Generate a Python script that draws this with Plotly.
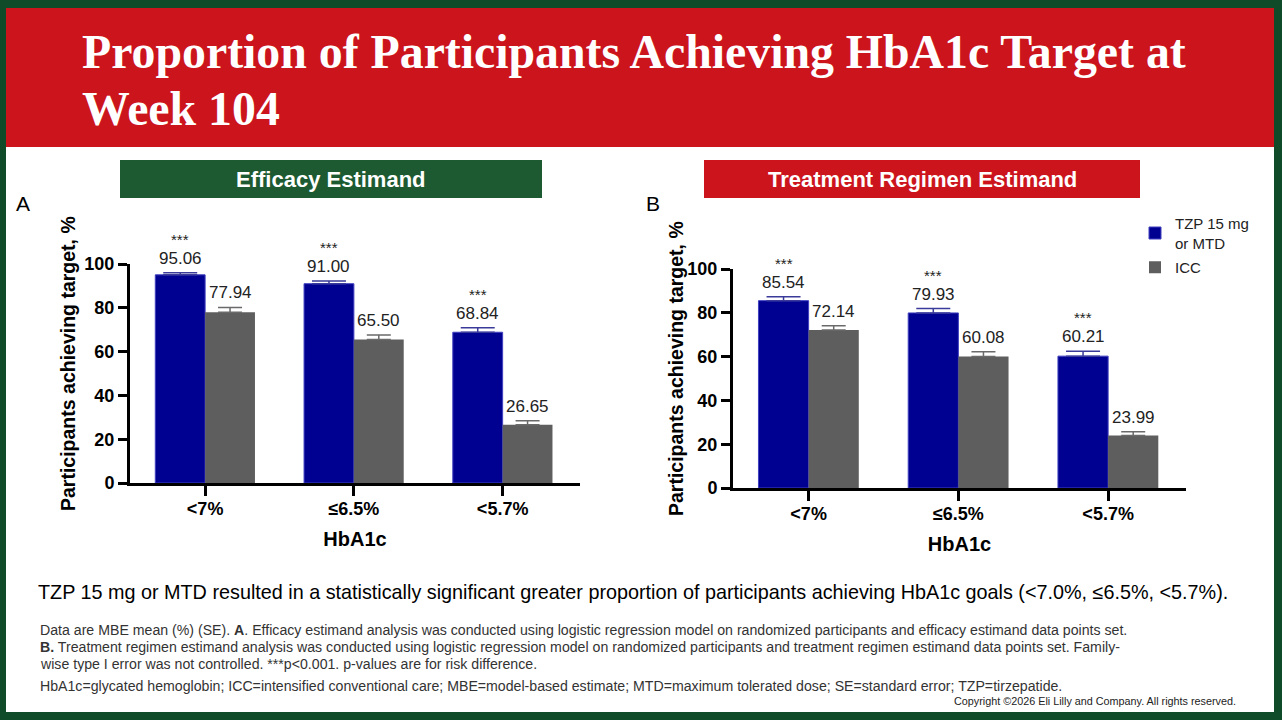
import plotly.graph_objects as go

W, H = 1282, 720

# --- data ---
categories = ["<7%", "≤6.5%", "<5.7%"]
series_names = ["TZP 15 mg<br>or MTD", "ICC"]

efficacy_tzp = [95.06, 91.00, 68.84]
efficacy_icc = [77.94, 65.50, 26.65]
efficacy_tzp_se = [1.0, 1.2, 2.1]
efficacy_icc_se = [2.2, 2.1, 1.8]

regimen_tzp = [85.54, 79.93, 60.21]
regimen_icc = [72.14, 60.08, 23.99]
regimen_tzp_se = [1.8, 2.0, 2.2]
regimen_icc_se = [2.0, 2.1, 1.7]

significance = ["***", "***", "***"]

BLUE = "#000091"
GREY = "#5e5e5e"
RED = "#cc141d"
DARK_GREEN = "#1d5a31"
BGGREEN = "#0f4a29"

serif = "Times New Roman, Liberation Serif, serif"
sans = "Arial, Liberation Sans, sans-serif"


def px(x):
    return x / W


def py(y):
    return 1 - y / H


fig = go.Figure()

BARGAP = 0.33
half = (1 - BARGAP) / 4  # centre offset of each bar in a pair


def add_panel(tzp, icc, tzp_se, icc_se, xa, ya, legend):
    xs = list(range(len(categories)))
    fig.add_trace(go.Bar(
        x=xs, y=tzp, name=series_names[0], marker=dict(color=BLUE, line=dict(color="#4040c0", width=1)),
        error_y=dict(type="data", symmetric=False, array=tzp_se, arrayminus=[0] * len(tzp),
                     color="#3a3a9a", thickness=1.5, width=17),
        xaxis=xa, yaxis=ya, showlegend=legend, legendgroup="tzp",
    ))
    fig.add_trace(go.Bar(
        x=xs, y=icc, name=series_names[1], marker=dict(color=GREY, line=dict(width=0)),
        error_y=dict(type="data", symmetric=False, array=icc_se, arrayminus=[0] * len(icc),
                     color="#6a6a6a", thickness=1.5, width=12),
        xaxis=xa, yaxis=ya, showlegend=legend, legendgroup="icc",
    ))
    # value labels above the error bars
    for i in xs:
        for val, se, off in ((tzp[i], tzp_se[i], -half), (icc[i], icc_se[i], half)):
            fig.add_annotation(x=i + off, y=val + se, xref=xa, yref=ya, text=f"{val:.2f}",
                               showarrow=False, yanchor="bottom", yshift=3,
                               font=dict(family=sans, size=17, color="#222222"))
        fig.add_annotation(x=i - half, y=tzp[i] + tzp_se[i], xref=xa, yref=ya, text=significance[i],
                           showarrow=False, yanchor="bottom", yshift=23,
                           font=dict(family=sans, size=15, color="#222222"))


add_panel(efficacy_tzp, efficacy_icc, efficacy_tzp_se, efficacy_icc_se, "x", "y", True)
add_panel(regimen_tzp, regimen_icc, regimen_tzp_se, regimen_icc_se, "x2", "y2", False)

tick_font = dict(family=sans, size=18, color="black", weight="bold")

xcommon = dict(range=[-0.505, 2.52], tickmode="array", tickvals=[0, 1, 2], ticktext=categories,
               showline=True, linecolor="black", linewidth=3, ticks="outside", ticklen=10,
               tickwidth=3, tickcolor="black", showgrid=False, zeroline=False,
               tickfont=tick_font, ticklabelstandoff=-3,
               title=dict(text="<b>HbA1c</b>", font=dict(size=20, family=sans, color="black"), standoff=15),
               fixedrange=True)
ycommon = dict(range=[0, 100], tickvals=[0, 20, 40, 60, 80, 100], showline=True, linecolor="black",
               linewidth=3, ticks="outside", ticklen=9, tickwidth=3, tickcolor="black",
               showgrid=False, zeroline=False, tickfont=tick_font, fixedrange=True)

fig.update_layout(
    width=W, height=H,
    margin=dict(l=0, r=0, t=0, b=0, pad=0, autoexpand=False),
    paper_bgcolor=BGGREEN,
    plot_bgcolor="white",
    barmode="group", bargap=BARGAP, bargroupgap=0,
    xaxis=dict(xcommon, domain=[px(130), px(580)], anchor="y"),
    yaxis=dict(ycommon, domain=[py(483), py(264)], anchor="x"),
    xaxis2=dict(xcommon, domain=[px(733), px(1186)], anchor="y2"),
    yaxis2=dict(ycommon, domain=[py(488), py(269)], anchor="x2"),
    legend=dict(x=px(1135), y=py(207), xanchor="left", yanchor="top",
                font=dict(family=sans, size=15, color="#222222"),
                bgcolor="rgba(0,0,0,0)", tracegroupgap=2),
    font=dict(family=sans),
)

# slide background, banner and panel headers
fig.add_shape(type="rect", xref="paper", yref="paper", x0=px(6), x1=px(1274), y0=py(712), y1=py(8),
              fillcolor="white", line=dict(width=0), layer="below")
fig.add_shape(type="rect", xref="paper", yref="paper", x0=px(6), x1=px(1274), y0=py(147), y1=py(8),
              fillcolor=RED, line=dict(width=0), layer="below")
fig.add_shape(type="rect", xref="paper", yref="paper", x0=px(120), x1=px(542), y0=py(198), y1=py(160),
              fillcolor=DARK_GREEN, line=dict(width=0), layer="below")
fig.add_shape(type="rect", xref="paper", yref="paper", x0=px(704), x1=px(1140), y0=py(198), y1=py(160),
              fillcolor=RED, line=dict(width=0), layer="below")


def label(x, y, text, size, family=sans, color="black", xanchor="left", angle=0):
    fig.add_annotation(x=px(x), y=py(y), xref="paper", yref="paper", xanchor=xanchor, yanchor="middle",
                       text=text, showarrow=False, textangle=angle,
                       font=dict(family=family, size=size, color=color))


label(80, 52, "<b>Proportion of Participants Achieving HbA1c Target at</b>", 47.8, serif, "white")
label(80, 108, "<b>Week 104</b>", 47.8, serif, "white")
label(331, 179, "<b>Efficacy Estimand</b>", 22, color="white", xanchor="center")
label(922, 179, "<b>Treatment Regimen Estimand</b>", 22, color="white", xanchor="center")
label(14, 203, "A", 21)
label(644, 203, "B", 21)

# y-axis titles
label(68, 364, "<b>Participants achieving target, %</b>", 19.5, xanchor="center", angle=-90)
label(676, 368, "<b>Participants achieving target, %</b>", 19.5, xanchor="center", angle=-90)

label(36, 592, "TZP 15 mg or MTD resulted in a statistically significant greater proportion of participants achieving HbA1c goals (<7.0%, ≤6.5%, <5.7%).", 19.8)

foot = [
    (630, "Data are MBE mean (%) (SE). <b>A</b>. Efficacy estimand analysis was conducted using logistic regression model on randomized participants and efficacy estimand data points set."),
    (647, "<b>B.</b> Treatment regimen estimand analysis was conducted using logistic regression model on randomized participants and treatment regimen estimand data points set. Family-"),
    (664, "wise type I error was not controlled. ***p<0.001. p-values are for risk difference."),
    (686, "HbA1c=glycated hemoglobin; ICC=intensified conventional care; MBE=model-based estimate; MTD=maximum tolerated dose; SE=standard error; TZP=tirzepatide."),
]
for yy, txt in foot:
    label(38, yy, txt, 14.15, color="#333333")

label(1238, 701, "Copyright ©2026 Eli Lilly and Company. All rights reserved.", 10.8,
      "Liberation Sans Narrow, Arial Narrow, sans-serif", "#222222", xanchor="right")

# pin the graph div to the top-left corner of the page
pin = ("document.body.style.margin='0';document.body.style.overflow='hidden';"
       "var d=document.getElementById('{plot_id}');"
       "d.style.position='absolute';d.style.top='0px';d.style.left='0px';")
fig.write_html("out.html", config={"displayModeBar": False}, post_script=pin)
